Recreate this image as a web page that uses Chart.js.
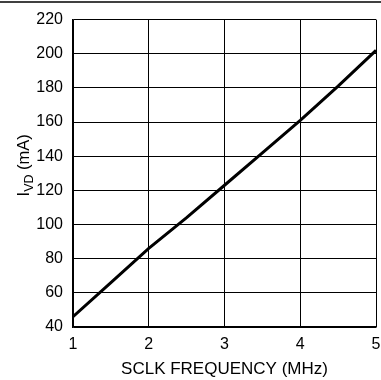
<!DOCTYPE html>
<html>
<head>
<meta charset="utf-8">
<script src="https://cdn.jsdelivr.net/npm/chart.js@4/dist/chart.umd.min.js"></script>
<style>
	html, body { margin: 0; padding: 0; background: #fff; }
	#wrap { width: 381px; height: 380px; position: relative; }
</style>
</head>
<body>
<div id="wrap"><canvas id="chart"></canvas></div>
<script>
//data
var freqMHz = [1, 1.5, 2, 2.5, 3, 3.5, 4, 4.5, 5];
var currentMA = [46, 66, 86, 104, 123, 142, 161, 181, 202];
var xTicks = [1, 2, 3, 4, 5];
var yTicks = [40, 60, 80, 100, 120, 140, 160, 180, 200, 220];

var FONT = '"Liberation Sans", Arial, sans-serif';

//y title with subscript + top rule
var extras = {
	id: 'extras',
	afterDraw: function(chart) {
		var ctx = chart.ctx;
		ctx.save();
		//figure rule at top
		ctx.strokeStyle = '#000';
		ctx.lineWidth = 1.5;
		ctx.beginPath();
		ctx.moveTo(0, 2);
		ctx.lineTo(chart.width, 2);
		ctx.stroke();

		//rotated y title: I_VD (mA)
		var cy = (chart.chartArea.top + chart.chartArea.bottom) / 2 - 8;
		ctx.translate(23, cy);
		ctx.rotate(-Math.PI / 2);
		ctx.fillStyle = '#000';
		ctx.textBaseline = 'alphabetic';
		ctx.textAlign = 'left';
		var big = '16.5px ' + FONT, small = '12.5px ' + FONT;
		ctx.font = big;
		var wI = ctx.measureText('I').width;
		var wRest = ctx.measureText(' (mA)').width;
		ctx.font = small;
		var wSub = ctx.measureText('VD').width;
		var x = -(wI + wSub + wRest) / 2, base = 6;
		ctx.font = big;
		ctx.fillText('I', x, base);
		x += wI;
		ctx.font = small;
		ctx.fillText('VD', x, base + 4);
		x += wSub;
		ctx.font = big;
		ctx.fillText(' (mA)', x, base);
		ctx.restore();
	}
};

var points = [];
for (var n = 0; n < freqMHz.length; n++) {
	points[n] = { x: freqMHz[n], y: currentMA[n] };
}

Chart.defaults.font.family = FONT;
Chart.defaults.color = '#000';

new Chart(document.getElementById('chart').getContext('2d'), {
	type: 'scatter',
	data: {
		datasets: [{
			data: points,
			showLine: true,
			borderColor: '#000',
			borderWidth: 3,
			pointRadius: 0,
			tension: 0
		}]
	},
	options: {
		responsive: true,
		maintainAspectRatio: false,
		animation: false,
		layout: { padding: { top: 17, right: 0, left: 0, bottom: 0 } },
		plugins: {
			legend: { display: false },
			tooltip: { enabled: false }
		},
		scales: {
			x: {
				type: 'linear',
				min: 1,
				max: 5,
				afterBuildTicks: function(scale) {
					scale.ticks = xTicks.map(function(v) { return { value: v }; });
				},
				afterFit: function(scale) {
					scale.height = 53;
					scale.paddingRight = 5;
					scale.paddingLeft = 0;
				},
				ticks: { font: { size: 16 }, padding: 8, maxRotation: 0 },
				grid: { color: '#000', lineWidth: 1, drawTicks: false },
				border: { color: '#000', width: 1.5 },
				title: {
					display: true,
					text: 'SCLK FREQUENCY (MHz)',
					font: { size: 17 },
					padding: { top: 0, bottom: 0 }
				}
			},
			y: {
				type: 'linear',
				min: 40,
				max: 220,
				afterBuildTicks: function(scale) {
					scale.ticks = yTicks.map(function(v) { return { value: v }; });
				},
				afterFit: function(scale) { scale.width = 73; },
				ticks: { font: { size: 16 }, padding: 10 },
				grid: { color: '#000', lineWidth: 1, drawTicks: false },
				border: { color: '#000', width: 1.5 }
			}
		}
	},
	plugins: [extras]
});
</script>
</body>
</html>
